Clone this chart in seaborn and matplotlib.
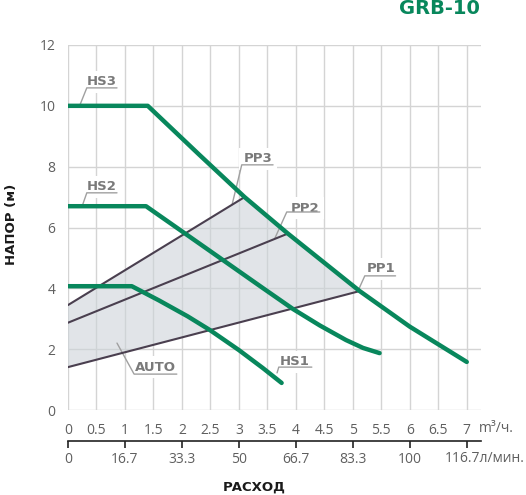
import matplotlib
matplotlib.use('Agg')
import matplotlib.pyplot as plt
import matplotlib.transforms as mtransforms
import pandas as pd
import seaborn as sns

# pump curves, flow (m3/h) vs head (m)
hs3_q = [0, 1.4, 2.3, 3.1, 3.86, 5.12, 6.0, 7.0]
hs3_h = [10, 10, 8.4, 7.0, 5.8, 3.91, 2.74, 1.58]
hs2_q = [0, 1.37, 2.4, 3.42, 3.95, 4.42, 4.88, 5.18, 5.47]
hs2_h = [6.7, 6.7, 5.35, 4.01, 3.32, 2.78, 2.30, 2.04, 1.87]
hs1_q = [0, 1.12, 1.6, 2.1, 2.49, 3.0, 3.42, 3.75]
hs1_h = [4.07, 4.07, 3.6, 3.08, 2.63, 1.97, 1.38, 0.89]

pp3_q = [0, 3.1]
pp3_h = [3.45, 7.0]
pp2_q = [0, 3.86]
pp2_h = [2.87, 5.8]
pp1_q = [0, 5.12]
pp1_h = [1.41, 3.91]

x_ticks = [0, 0.5, 1, 1.5, 2, 2.5, 3, 3.5, 4, 4.5, 5, 5.5, 6, 6.5, 7]
y_ticks = [0, 2, 4, 6, 8, 10, 12]
lmin_ticks = [0, 1, 2, 3, 4, 5, 6, 7]
lmin_labels = ['0', '16.7', '33.3', '50', '66.7', '83.3', '100', '116.7']

GREEN = '#08875c'
DARK = '#4a3f4f'
GREY = '#5f5f5f'
LEADER = '#a0a0a0'

sns.set_theme(style='white')
plt.rcParams['font.family'] = ['Open Sans', 'DejaVu Sans']

fig = plt.figure(figsize=(5.26, 4.95), dpi=100)
ax = fig.add_axes([68 / 526, 85 / 495, 413 / 526, 365 / 495])

# AUTO zone: left edge, along PP3, down HS3, back along PP1
seg = [(q, h) for q, h in zip(hs3_q, hs3_h) if pp3_q[-1] < q < pp1_q[-1]]
poly_q = [pp1_q[0], pp3_q[0], pp3_q[-1]] + [s[0] for s in seg] + [pp1_q[-1]]
poly_h = [pp1_h[0], pp3_h[0], pp3_h[-1]] + [s[1] for s in seg] + [pp1_h[-1]]
ax.fill(poly_q, poly_h, color='#cdd3d9', alpha=0.6, lw=0, zorder=1)

for q, h in [(pp3_q, pp3_h), (pp2_q, pp2_h), (pp1_q, pp1_h)]:
    sns.lineplot(x=q, y=h, ax=ax, color=DARK, lw=1.5, sort=False,
                 legend=False, zorder=3)

for q, h in [(hs3_q, hs3_h), (hs2_q, hs2_h), (hs1_q, hs1_h)]:
    df = pd.DataFrame({'q': q, 'h': h})
    sns.lineplot(data=df, x='q', y='h', ax=ax, color=GREEN, lw=3.2,
                 sort=False, legend=False, zorder=4,
                 solid_capstyle='round', solid_joinstyle='round')

# curve labels: text, underline (left, right, y) and leader end
labels = [
    ('HS3', 0.60, 10.79, 0.33, 0.86, 10.59, 0.21, 10.03),
    ('HS2', 0.60, 7.34, 0.33, 0.86, 7.14, 0.25, 6.71),
    ('PP3', 3.33, 8.26, 3.05, 3.60, 8.06, 2.88, 6.75),
    ('PP2', 4.16, 6.64, 3.84, 4.42, 6.51, 3.63, 5.64),
    ('PP1', 5.49, 4.64, 5.21, 5.75, 4.41, 5.09, 3.91),
    ('AUTO', 1.54, 1.41, 1.16, 1.91, 1.18, 0.86, 2.20),
    ('HS1', 3.98, 1.58, 3.70, 4.28, 1.41, 3.67, 1.22),
]
for txt, tx, ty, u0, u1, uy, lx, ly in labels:
    ax.text(tx, ty, txt, ha='center', va='center', fontsize=9.5,
            family='DejaVu Sans', fontweight='bold', color='#7a7a7a',
            zorder=2,
            bbox=dict(boxstyle='square,pad=0.35', fc='white', ec='none'))
    ax.plot([lx, u0, u1], [ly, uy, uy], color=LEADER, lw=1, zorder=2.5)

ax.set_xlim(0, 7.25)
ax.set_ylim(0, 12)
ax.set_xticks(x_ticks)
ax.set_xticklabels([f'{v:g}' for v in x_ticks])
ax.set_yticks(y_ticks)
ax.grid(True, color='#d4d4d4', lw=1)
ax.set_axisbelow(True)
for s in ax.spines.values():
    s.set_visible(False)
ax.tick_params(axis='both', which='major', length=6, width=1, color='#d4d4d4',
               labelsize=10, labelcolor=GREY, pad=3)
ax.set_xlabel('')
ax.set_ylabel('')

sec = ax.secondary_xaxis(-0.085)
sec.set_xticks(lmin_ticks)
sec.set_xticklabels(lmin_labels[:-1] + [''])
for k, s in sec.spines.items():
    s.set_visible(k == 'bottom')
sec.spines['bottom'].set_color('#222222')
sec.spines['bottom'].set_linewidth(1.2)
sec.tick_params(length=5, width=1.2, color='#222222', labelsize=10,
                labelcolor=GREY, pad=3)

blend = mtransforms.blended_transform_factory(ax.transData, fig.transFigure)
ax.text(7.22, 1 - 429 / 495, 'm³/ч.', transform=blend, ha='left',
        va='center', fontsize=10, color=GREY)
ax.text(6.61, 1 - 458 / 495, lmin_labels[-1] + 'л/мин.', transform=blend,
        ha='left', va='center', fontsize=10, color=GREY)

fig.text(480 / 526, 1 - 9 / 495, 'GRB-10', ha='right', va='center',
         fontsize=14, fontweight='bold', family='DejaVu Sans', color=GREEN)
fig.text(12 / 526, 1 - 224 / 495, 'НАПОР (м)', rotation=90, ha='center',
         va='center', fontsize=9.5, fontweight='bold', family='DejaVu Sans',
         color='#1a1a1a')
fig.text(254 / 526, 1 - 487 / 495, 'РАСХОД', ha='center', va='center',
         fontsize=9.5, fontweight='bold', family='DejaVu Sans', color='#1a1a1a')

fig.savefig('out.png', dpi=100)
